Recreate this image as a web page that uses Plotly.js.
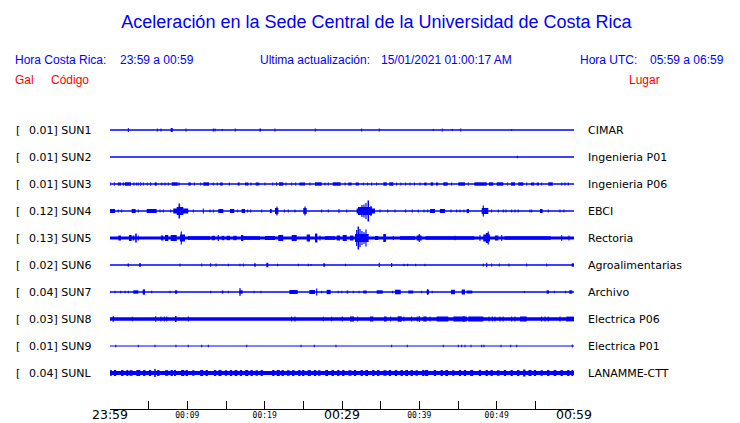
<!DOCTYPE html>
<html><head><meta charset="utf-8">
<script src="https://cdn.plot.ly/plotly-3.0.1.min.js"></script>
<style>html,body{margin:0;padding:0;background:#fff}#chart{width:740px;height:423px}</style>
</head><body><div id="chart"></div>
<script>
// ---------- data ----------
const codes  = ['SUN1','SUN2','SUN3','SUN4','SUN5','SUN6','SUN7','SUN8','SUN9','SUNL'];
const gal    = ['0.01','0.01','0.01','0.12','0.13','0.02','0.04','0.03','0.01','0.04'];
const places = ['CIMAR','Ingenieria P01','Ingenieria P06','EBCI','Rectoria','Agroalimentarias','Archivo','Electrica P06','Electrica P01','LANAMME-CTT'];
// background (noise) half-amplitude of each trace
const noise  = [0.7,0.7,0.7,0.7,1.5,0.7,0.7,1.8,0.6,2.1];

// events: t = minute after 23:59, w = duration (min), a = half-amplitude (trace units)
const sun1T = [2.37,6.12,6.59,7.98,9.83,13.36,13.58,14.52,16.20,19.43,21.33,26.55,32.54,34.82,41.80,42.97,44.26,45.35,51.94];
const sun1W = [0.13,0.13,0.13,0.26,0.13,0.13,0.13,0.13,0.13,0.2,0.13,0.13,0.13,0.13,0.13,0.13,0.13,0.13,0.13];
const sun1A = [2,1.5,1.5,2,1.5,1.5,1.5,1,1.5,1.5,1.5,1.5,1.5,1.5,1,1.5,1,1.5,1];

const sun2T = [52.66];
const sun2W = [0.13];
const sun2A = [1.2];

const sun3T = [0.0,0.56,1.21,1.75,2.33,3.10,3.45,3.66,3.97,4.31,4.82,5.26,5.91,6.69,7.11,7.54,8.37,8.92,10.30,10.90,11.73,12.43,13.36,13.87,14.40,15.43,16.64,17.67,18.23,19.07,20.04,21.04,21.55,22.13,22.76,23.49,24.01,24.85,25.86,26.94,27.80,28.23,29.31,30.39,31.03,31.98,32.75,33.32,33.84,34.48,35.56,36.37,37.07,37.63,38.23,38.79,39.35,40.08,40.79,41.63,42.30,43.38,44.18,45.47,46.33,47.91,49.28,50.43,51.42,52.11,53.12,53.88,54.65,55.32,55.82,56.96,58.41,58.83,59.26];
const sun3W = [0.13,0.13,0.43,0.21,0.78,0.13,0.13,0.13,0.13,0.13,0.13,0.13,0.26,0.13,0.13,0.13,0.78,0.13,0.35,0.13,0.13,0.74,0.13,0.13,0.35,0.13,0.26,0.43,0.13,0.47,0.13,0.13,0.13,0.56,0.13,0.13,0.13,0.74,0.13,0.87,0.13,0.13,1.03,0.13,0.44,0.43,0.13,0.13,0.13,0.13,0.44,0.52,0.13,0.13,0.13,0.13,0.13,0.13,0.31,0.34,0.30,0.57,0.13,0.87,0.13,1.6,0.56,0.85,0.13,0.52,0.65,0.13,0.43,0.30,0.13,0.57,0.13,0.13,0.13];
const sun3A = [2,1.8,1.5,1.5,1.7,1.8,1.5,1.5,1.8,1.5,1.5,1.8,1.7,1.5,1.5,1.5,1.7,1.8,1.5,1.5,1.5,1.7,1.5,1.5,1.5,1.5,1.5,1.5,1.5,1.5,1.5,1.5,1.8,1.7,1.5,1.5,1.5,1.5,1.5,1.7,1.5,1.5,1.7,1.5,1.5,1.5,1.5,1.5,1.5,1.5,1.7,1.7,1.5,1.5,1.5,1.5,1.5,1.5,1.5,1.7,1.5,1.7,1.5,1.7,1.5,1.7,1.7,1.7,1.5,1.7,1.7,1.5,1.5,1.5,1.5,1.7,1.5,1.5,1.5];

const sun4T = [0.32,1.07,1.51,3.06,3.66,5.39,6.47,6.89,7.85,9.15,9.05,8.96,10.77,12.06,12.93,13.36,14.33,15.79,16.51,17.24,17.80,18.19,19.62,20.80,21.55,21.59,22.54,23.05,23.92,25.21,25.21,27.37,28.23,29.61,30.61,33.08,32.97,32.58,32.84,33.10,33.40,33.75,34.91,35.91,36.85,38.23,39.09,39.86,40.60,41.08,41.70,42.99,44.09,44.83,45.26,45.77,46.27,48.49,48.27,49.35,50.21,50.85,51.20,51.94,52.37,52.79,54.31,54.53,55.77,56.67,58.19,58.70];
const sun4W = [0.65,0.13,0.13,0.52,0.13,1.29,0.13,0.13,0.13,1.94,0.85,0.2,0.13,0.13,0.13,0.13,0.65,0.56,0.13,0.43,0.13,0.13,0.13,0.22,0.43,0.15,0.13,0.13,0.13,0.44,0.15,0.13,0.13,0.13,0.13,2.37,1.81,0.15,0.15,0.15,0.2,0.15,0.13,0.13,0.13,0.13,0.13,0.13,0.13,0.13,0.65,0.65,0.13,0.13,0.13,0.13,0.3,0.85,0.15,0.13,0.13,0.13,0.13,0.13,0.13,0.13,0.13,0.13,0.35,0.13,0.13,0.13];
const sun4A = [2,1.5,1.5,2,1.5,2,1.5,1.5,1.5,2.5,4,7.5,1.5,2.5,1.5,1.5,2,2,1.5,2,1.5,1.5,1.5,2,3,4.5,1.5,1.5,1.5,3,4.5,1.5,1.5,2,1.5,2.5,4,6,6.5,8,10.5,5,1.5,1.5,1.5,1.5,1.5,1.5,1.5,1.5,2,2,1.5,1.5,1.5,1.5,2,3,5.5,1.5,1.5,1.5,1.5,1.5,1.5,1.5,1.5,1.5,2,1.5,1.5,1.5];

const sun5T = [1.25,2.63,3.04,3.36,3.66,6.74,7.32,8.24,9.37,9.22,11.51,13.36,14.00,14.61,15.30,16.16,17.09,18.30,20.69,22.08,23.82,25.65,26.66,27.15,28.45,29.53,30.35,31.25,32.54,31.90,32.11,32.33,32.58,32.84,33.10,33.36,34.48,35.51,36.63,38.47,39.98,39.99,43.96,44.61,47.84,48.70,48.75,48.91,50.00,50.65,54.00,58.41,59.35];
const sun5W = [0.35,0.35,0.21,0.2,0.13,0.3,0.43,0.78,0.65,0.15,2.85,0.43,0.15,0.34,0.43,0.44,0.3,2.2,1.3,0.65,0.65,0.43,0.3,0.13,1.3,0.43,0.52,0.43,1.72,0.15,0.2,0.15,0.15,0.15,0.15,0.15,0.43,0.35,0.13,1.94,0.65,0.15,6.3,0.13,0.13,0.87,0.3,0.15,0.43,0.13,6.0,0.13,0.13];
const sun5A = [2.5,3,2.5,4.5,2.5,2.5,3,3,3.5,6.5,1.8,2.2,3,2.2,2.2,2.2,3,1.8,2,3,3,3.5,4.5,2.5,1.8,2.5,3,2.5,4,8,11.5,9,7,6,8.5,4,2,4,2,1.8,2.5,4,1.8,2.2,3,3.5,5,6.5,2.5,3,1.7,3,2.5];

const sun6T = [2.37,3.88,9.05,11.86,13.02,13.71,15.30,16.81,17.24,18.75,20.34,21.66,24.35,25.64,25.99,27.70,30.45,34.82,36.42,38.01,38.49,39.53,40.73,48.27,48.71,49.35,50.34,51.59,53.88,56.47,59.87];
const sun6W = [0.2,0.25,0.13,0.13,0.13,0.13,0.13,0.13,0.13,0.2,0.25,0.13,0.13,0.13,0.13,0.25,0.13,0.15,0.15,0.13,0.13,0.13,0.13,0.13,0.15,0.13,0.13,0.13,0.13,0.13,0.34];
const sun6A = [1.5,1.7,1.5,1.5,1.7,1.5,1.3,1.3,1.5,1.7,2.2,1.3,1.3,1.3,1,1.7,1.3,2.3,2,1.3,1.3,1.3,1.3,1.5,2.3,1.5,1.5,1.5,1.5,1.5,1.7];

const sun7T = [0.00,0.65,1.38,1.94,2.37,3.34,4.38,4.40,5.39,7.76,8.55,13.02,14.55,15.30,16.94,16.81,18.62,19.52,23.73,26.14,26.73,27.37,28.28,29.52,29.96,30.71,31.46,32.20,32.97,34.87,36.55,37.22,38.89,40.30,41.10,41.08,41.67,44.35,45.69,46.48,53.57,56.61,57.45,58.92,59.58];
const sun7W = [0.13,0.13,0.13,0.13,0.13,0.65,0.3,0.13,0.13,0.13,0.3,0.13,0.21,0.13,0.44,0.15,0.13,0.13,1.08,0.74,0.15,0.13,0.52,0.13,0.13,0.21,0.13,0.13,0.44,0.78,0.13,0.74,0.65,0.13,0.3,0.15,0.13,0.52,0.43,0.73,0.13,0.3,0.13,0.13,0.39];
const sun7A = [1.3,1.3,1.3,1.3,1.3,1.7,2.3,3,1.3,1.3,1.7,1.3,1.5,1.3,1.7,4,1.3,1.3,2,2,3.5,1.3,2.2,1.3,1.3,1.5,1.3,1.3,1.5,1.7,1.3,2.3,1.5,1.3,2,3,1.3,2.2,2.5,1.5,1,1.7,1.3,1.3,1.7];

const sun8T = [0.43,2.88,5.91,6.59,7.02,7.33,8.50,10.12,23.49,23.92,27.58,28.67,30.04,31.29,32.03,33.83,35.60,36.30,37.46,38.01,39.01,39.73,39.99,40.73,41.38,42.99,45.26,45.77,47.30,49.01,49.43,49.78,50.43,50.85,51.94,52.37,53.45,55.82,56.25,56.67,58.19,59.50];
const sun8W = [0.2,0.13,0.15,0.13,0.13,0.13,0.2,0.13,0.13,0.13,0.13,0.13,0.13,0.52,0.13,0.43,0.35,0.13,0.52,0.13,0.13,0.13,0.15,0.44,0.13,1.5,1.73,0.15,1.94,0.13,0.13,0.13,0.13,0.13,0.13,0.13,0.87,0.13,0.13,0.13,0.13,1.0];
const sun8A = [2.7,2.3,2.7,2.5,2.5,2.5,3,2.5,2.5,2.5,2.3,2.3,2.5,2.5,2.5,2.5,2.5,2.5,2.7,2.5,2.5,2.5,3,2.5,2.5,2.5,2.5,3,2.5,2.5,2.5,2.5,2.5,2.5,2.5,2.5,2.5,2.5,2.5,2.5,2.5,2.4];

const sun9T = [0.74,3.66,5.82,8.53,10.12,11.86,12.71,17.68,24.70,26.42,29.22,36.42,38.44,43.10,45.04,45.48,45.90,46.68,48.06,48.36,50.56,51.81,52.59,59.78];
const sun9W = [0.13,0.13,0.13,0.13,0.13,0.13,0.13,0.13,0.13,0.13,0.13,0.13,0.13,0.13,0.13,0.13,0.13,0.13,0.13,0.13,0.13,0.13,0.13,0.13];
const sun9A = [1.3,1.3,1.3,1.3,1.3,1.3,1.3,1.3,1.3,1.3,1.3,1.3,1.3,1.3,1.3,1.3,1.3,1.3,1.3,1.3,1.3,1.3,1.3,1.5];

const sunLT = [0.13,0.65,1.59,2.24,2.72,3.66,4.43,5.17,5.82,6.25,7.33,7.98,8.40,9.40,9.92,10.77,11.86,12.50,13.58,14.22,15.00,15.65,16.29,16.94,17.68,18.32,18.97,19.62,21.12,21.76,22.33,23.05,23.70,24.48,24.99,25.77,26.51,27.06,28.02,28.80,29.52,30.17,31.03,31.68,32.55,33.19,34.05,34.69,35.56,36.20,36.98,37.72,38.36,39.01,39.66,40.51,40.95,42.02,42.89,43.54,44.39,45.26,45.90,46.77,47.84,48.71,49.35,50.21,51.07,51.94,52.79,53.57,54.31,54.95,55.82,56.67,57.54,58.41,59.26,59.78];
const sunLW = [0.2,0.3,0.3,0.25,0.4,0.5,0.3,0.3,0.2,0.3,0.4,0.3,0.25,0.4,0.3,0.3,0.4,0.3,0.3,0.4,0.3,0.3,0.35,0.3,0.4,0.3,0.3,0.3,0.3,0.4,0.3,0.35,0.3,0.3,0.3,0.4,0.3,0.3,0.35,0.3,0.3,0.3,0.4,0.3,0.3,0.35,0.3,0.3,0.4,0.3,0.3,0.3,0.35,0.3,0.3,0.3,0.4,0.3,0.3,0.35,0.3,0.3,0.3,0.4,0.3,0.3,0.3,0.35,0.3,0.3,0.3,0.3,0.4,0.3,0.3,0.3,0.35,0.3,0.3,0.25];
const sunLA = [3,3,3,3,2.8,3,3,3,4,3,2.8,3,3,3,3,2.8,3,3,3,3,2.8,3,3,3,3,3,2.8,3,3,3,3,2.8,3,3,3,3,3,2.8,3,3,3,3,2.8,3,3,3,3,3,2.8,3,3,3,3,3,2.8,3,3,3,3,3,2.8,3,3,3,3,3,3,2.8,3,3,3,3.5,3,3,2.8,3,3,3,3,3];

const eventT = [sun1T,sun2T,sun3T,sun4T,sun5T,sun6T,sun7T,sun8T,sun9T,sunLT];
const eventW = [sun1W,sun2W,sun3W,sun4W,sun5W,sun6W,sun7W,sun8W,sun9W,sunLW];
const eventA = [sun1A,sun2A,sun3A,sun4A,sun5A,sun6A,sun7A,sun8A,sun9A,sunLA];

// time axis (minutes after 23:59)
const spanMin = 60;
const tickMinutes = [0,5,10,15,20,25,30,35,40,45,50,55,60];
const minorLabels = ['','','00:09','','00:19','','','','00:39','','00:49','',''];
const majorMinutes = [0,30,60];
const majorLabels = ['23:59','00:29','00:59'];

// ---------- drawing ----------
const W=740, H=423, L=110, R=166, T=100, B=14;
const ROW = 27;                    // trace separation in y units
const pw = W-L-R, ph = H-T-B;
const px2x = px => (px-L)/pw;
const py2y = py => (H-B-py)/ph;
const BLUE = '#0000ff';

const traces = eventT.map((tArr,i) => {
  const off = -ROW*i;
  const x = [spanMin/2].concat(tArr);
  const w = [spanMin].concat(eventW[i]);
  const a = [noise[i]].concat(eventA[i]);
  return {
    type:'bar', x:x, width:w,
    base:a.map(v=>off-v), y:a.map(v=>2*v),
    marker:{color:BLUE, line:{width:0}},
    hoverinfo:'skip', showlegend:false, xaxis:'x', yaxis:'y'
  };
});

const annotations = [];
function ann(text, px, py, color, size, family, xanchor, extra){
  annotations.push(Object.assign({
    text:text, xref:'paper', yref:'paper', x:px2x(px), y:py2y(py),
    xanchor:xanchor||'left', yanchor:'middle', showarrow:false,
    borderpad:0, borderwidth:0,
    font:{family:family, size:size, color:color}
  }, extra||{}));
}
const SANS = 'Liberation Sans, Arial, sans-serif';
ann('Hora Costa Rica:', 15, 60, BLUE, 12, SANS);
ann('23:59 a 00:59', 120, 60, BLUE, 12, SANS);
ann('Ultima actualización:', 260, 60, BLUE, 12, SANS);
ann('15/01/2021 01:00:17 AM', 381, 60, BLUE, 12, SANS);
ann('Hora UTC:', 580, 60, BLUE, 12, SANS);
ann('05:59 a 06:59', 650, 60, BLUE, 12, SANS);
ann('Gal', 15, 80, '#ff0000', 12, SANS);
ann('Código', 50.5, 80, '#ff0000', 12, SANS);
ann('Lugar', 629, 80, '#ff0000', 12, SANS);

codes.forEach((c,i) => {
  const yv = -ROW*i;
  annotations.push({text:'[', xref:'paper', yref:'y', x:px2x(15), y:yv, xanchor:'left', yanchor:'middle',
    showarrow:false, borderpad:0, font:{family:'DejaVu Sans', size:11, color:'#000'}});
  annotations.push({text:gal[i]+'] '+c, xref:'paper', yref:'y', x:px2x(27.5), y:yv, xanchor:'left', yanchor:'middle',
    showarrow:false, borderpad:0, font:{family:'DejaVu Sans', size:11, color:'#000'}});
  annotations.push({text:places[i], xref:'paper', yref:'y', x:px2x(587), y:yv, xanchor:'left', yanchor:'middle',
    showarrow:false, borderpad:0, font:{family:'DejaVu Sans', size:11, color:'#000'}});
});

const layout = {
  width:W, height:H,
  margin:{l:L, r:R, t:T, b:B, pad:0},
  paper_bgcolor:'#fff', plot_bgcolor:'#fff',
  barmode:'overlay', showlegend:false,
  title:{text:'Aceleración en la Sede Central de la Universidad de Costa Rica',
    font:{family:SANS, size:18, color:BLUE},
    x:376.5/W, xref:'container', xanchor:'center', y:1-22/H, yref:'container', yanchor:'middle'},
  xaxis:{range:[0,spanMin], tickmode:'array', tickvals:tickMinutes, ticktext:minorLabels,
    ticks:'inside', ticklen:8, tickwidth:1, tickcolor:'#000',
    showline:true, linecolor:'#000', linewidth:1, mirror:false,
    showgrid:false, zeroline:false, fixedrange:true, ticklabelstandoff:-2,
    tickfont:{family:'DejaVu Sans Mono', size:8, color:'#000'}},
  xaxis2:{range:[0,spanMin], overlaying:'x', anchor:'y', side:'bottom',
    tickmode:'array', tickvals:majorMinutes, ticktext:majorLabels, ticks:'',
    showline:false, showgrid:false, zeroline:false, fixedrange:true, ticklabelstandoff:-4,
    tickfont:{family:'DejaVu Sans', size:12.5, color:'#000'}},
  yaxis:{range:[-(ROW*9)-36, 30], visible:false, showgrid:false, zeroline:false, fixedrange:true},
  annotations:annotations
};
// invisible point so that the second time axis is drawn
traces.push({type:'scatter', x:[0], y:[1000], xaxis:'x2', yaxis:'y', mode:'markers', marker:{opacity:0}, hoverinfo:'skip', showlegend:false});

Plotly.newPlot('chart', traces, layout, {staticPlot:true, displayModeBar:false});
</script></body></html>
